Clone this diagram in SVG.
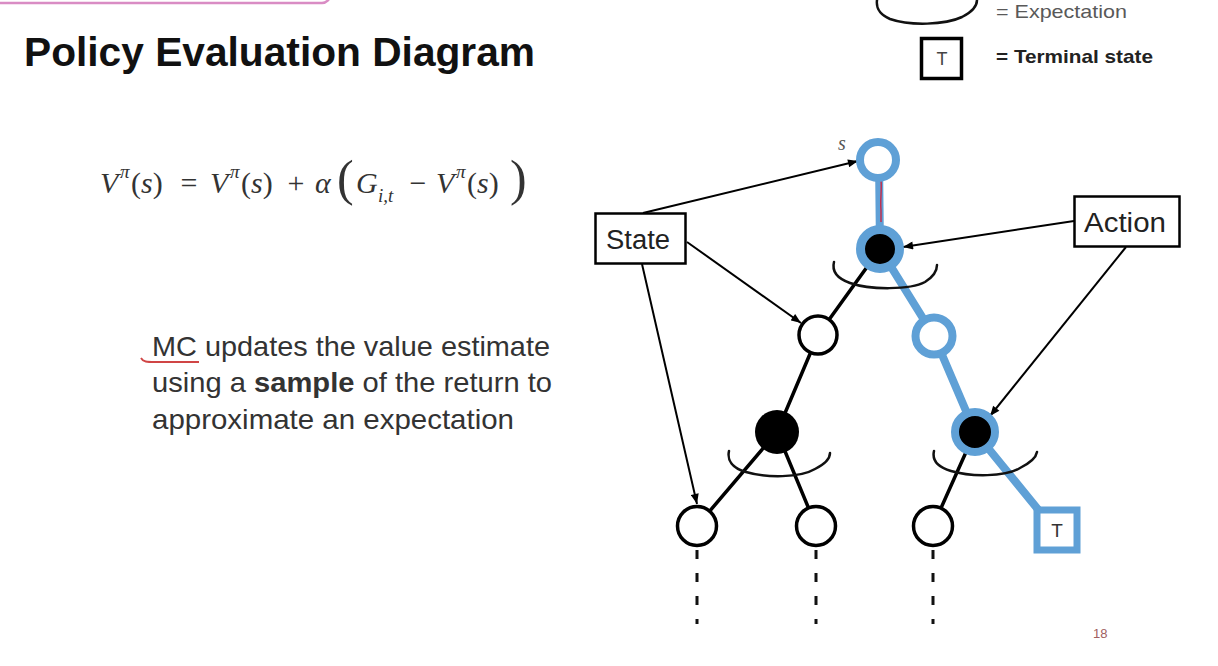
<svg xmlns="http://www.w3.org/2000/svg" width="1218" height="666" viewBox="0 0 1218 666">
<defs>
<style>
.sans{font-family:"Liberation Sans",Arial,sans-serif}
.serif{font-family:"Liberation Serif","Times New Roman",serif}
.it{font-style:italic}
.edge{stroke:#000;stroke-width:3.5;fill:none;stroke-linecap:round}
.blue{stroke:#5fa0d6;stroke-width:8;fill:none;stroke-linecap:round}
.arrow{stroke:#000;stroke-width:2;fill:none}
.arc{stroke:#111;stroke-width:2.5;fill:none;stroke-linecap:round}
.dash{stroke:#111;stroke-width:3;stroke-dasharray:9 14}
.box{fill:#fff;stroke:#000;stroke-width:2.5}
.eq{font-size:30px;fill:#333}
.sup{font-size:19px;fill:#333}
.body{font-size:28px;fill:#333}
</style>
<marker id="ah" viewBox="0 0 10 8" refX="10" refY="4" markerWidth="11" markerHeight="8" markerUnits="userSpaceOnUse" orient="auto">
<path d="M0,0 L10,4 L0,8 z" fill="#000"/>
</marker>
</defs>
<rect width="1218" height="666" fill="#fff"/>
<rect x="-20" y="-40" width="350" height="43" rx="8" fill="#fff" stroke="#d98cc4" stroke-width="2.5"/>

<text class="sans" x="24" y="66" font-size="40" font-weight="bold" fill="#111" textLength="511" lengthAdjust="spacingAndGlyphs">Policy Evaluation Diagram</text>

<g id="legend">
<path class="arc" d="M877,0 C876,8 879,14 890,19 C910,26 945,25 962,17 C972,12 977,6 977,0"/>
<text class="sans" x="996" y="18" font-size="19" fill="#595959" textLength="131" lengthAdjust="spacingAndGlyphs">= Expectation</text>
<rect x="921.5" y="38.5" width="40" height="40" fill="#fff" stroke="#000" stroke-width="3.5"/>
<text class="sans" x="942" y="65" font-size="18" fill="#444" text-anchor="middle">T</text>
<text class="sans" x="996" y="63" font-size="19" font-weight="bold" fill="#222" textLength="157" lengthAdjust="spacingAndGlyphs">= Terminal state</text>
</g>

<g id="formula" class="serif">
<text class="eq it" x="100" y="193">V</text>
<text class="sup it" x="120" y="178">π</text>
<text class="eq" x="131" y="193">(<tspan class="it">s</tspan>)</text>
<text class="eq" x="189" y="193" text-anchor="middle">=</text>
<text class="eq it" x="210" y="193">V</text>
<text class="sup it" x="230" y="178">π</text>
<text class="eq" x="241" y="193">(<tspan class="it">s</tspan>)</text>
<text class="eq" x="296" y="193" text-anchor="middle">+</text>
<text class="eq it" x="315" y="193">α</text>
<text x="337" y="195" font-size="50" fill="#333">(</text>
<text class="eq it" x="356" y="193">G</text>
<text class="sup it" x="378" y="202">i,t</text>
<text class="eq" x="418" y="193" text-anchor="middle">−</text>
<text class="eq it" x="436" y="193">V</text>
<text class="sup it" x="456" y="178">π</text>
<text class="eq" x="467" y="193">(<tspan class="it">s</tspan>)</text>
<text x="510" y="195" font-size="50" fill="#333">)</text>
</g>

<g id="description" class="sans">
<text class="body" x="152" y="356" textLength="398" lengthAdjust="spacingAndGlyphs">MC updates the value estimate</text>
<text class="body" x="152" y="392" textLength="400" lengthAdjust="spacingAndGlyphs">using a <tspan font-weight="bold">sample</tspan> of the return to</text>
<text class="body" x="152" y="429" textLength="362" lengthAdjust="spacingAndGlyphs">approximate an expectation</text>
<path d="M141,358 C143,362 147,362 155,362 L199,362" stroke="#d04545" stroke-width="1.8" fill="none"/>
</g>

<g id="connectors">
<line class="edge" x1="880" y1="249" x2="818" y2="335"/>
<line class="edge" x1="818" y1="335" x2="777" y2="432"/>
<line class="edge" x1="777" y1="432" x2="697" y2="526"/>
<line class="edge" x1="777" y1="432" x2="816" y2="526"/>
<line class="edge" x1="975" y1="432" x2="933" y2="526"/>
<line class="blue" x1="879" y1="160" x2="880" y2="249"/>
<path d="M881,180 C882,190 880,200 881,210 L881,222" stroke="#c03050" stroke-width="1.5" fill="none"/>
<line class="blue" x1="880" y1="249" x2="934" y2="336"/>
<line class="blue" x1="934" y1="336" x2="975" y2="432"/>
<line class="blue" x1="975" y1="432" x2="1045" y2="518"/>
<line class="dash" x1="697" y1="550" x2="697" y2="624"/>
<line class="dash" x1="816" y1="550" x2="816" y2="624"/>
<line class="dash" x1="933" y1="550" x2="933" y2="624"/>
<line class="arrow" x1="643" y1="213" x2="858" y2="161" marker-end="url(#ah)"/>
<line class="arrow" x1="687" y1="242" x2="801" y2="323" marker-end="url(#ah)"/>
<line class="arrow" x1="642" y1="264" x2="697" y2="504" marker-end="url(#ah)"/>
<line class="arrow" x1="1074" y1="221" x2="903" y2="247" marker-end="url(#ah)"/>
<line class="arrow" x1="1126" y1="247" x2="990" y2="416" marker-end="url(#ah)"/>
</g>

<g id="root">
<circle cx="878" cy="160" r="18" fill="#fff" stroke="#5fa0d6" stroke-width="8"/>
<text class="serif it" x="838" y="150" font-size="20" fill="#555">s</text>
</g>
<g id="action1">
<circle cx="880" cy="249" r="19.5" fill="#000" stroke="#5fa0d6" stroke-width="9"/>
<path class="arc" d="M834,262 C832,270 836,278 850,283 C870,290 910,290 925,282 C933,277 937,271 937,265"/>
</g>
<g id="state1">
<circle cx="818" cy="335" r="19" fill="#fff" stroke="#000" stroke-width="3.5"/>
</g>
<g id="state2">
<circle cx="934" cy="336" r="18.5" fill="#fff" stroke="#5fa0d6" stroke-width="8"/>
</g>
<g id="action2">
<circle cx="777" cy="432" r="22" fill="#000"/>
<path class="arc" d="M729,451 C727,460 732,468 746,472 C766,478 800,478 815,469 C825,464 830,459 830,453"/>
</g>
<g id="action3">
<circle cx="975" cy="432" r="20" fill="#000" stroke="#5fa0d6" stroke-width="8"/>
<path class="arc" d="M934,451 C932,460 937,467 951,471 C971,477 1005,477 1020,468 C1030,463 1036,458 1037,452"/>
</g>
<g id="leaf1"><circle cx="697" cy="526" r="19.5" fill="#fff" stroke="#000" stroke-width="3.5"/></g>
<g id="leaf2"><circle cx="816" cy="526" r="19.5" fill="#fff" stroke="#000" stroke-width="3.5"/></g>
<g id="leaf3"><circle cx="933" cy="526" r="19.5" fill="#fff" stroke="#000" stroke-width="3.5"/></g>
<g id="terminal">
<rect x="1037" y="510" width="40" height="40" fill="#fff" stroke="#5fa0d6" stroke-width="7"/>
<text class="sans" x="1057" y="537" font-size="19" fill="#333" text-anchor="middle">T</text>
</g>

<g id="stateBox">
<rect class="box" x="595.5" y="213.5" width="90" height="50"/>
<text class="sans" x="606" y="249" font-size="27" fill="#222" textLength="64" lengthAdjust="spacingAndGlyphs">State</text>
</g>
<g id="actionBox">
<rect class="box" x="1074.5" y="196.5" width="105" height="50"/>
<text class="sans" x="1084" y="232" font-size="27" fill="#222" textLength="82" lengthAdjust="spacingAndGlyphs">Action</text>
</g>

<text class="sans" x="1093" y="638" font-size="13" fill="#a06060">18</text>
</svg>
